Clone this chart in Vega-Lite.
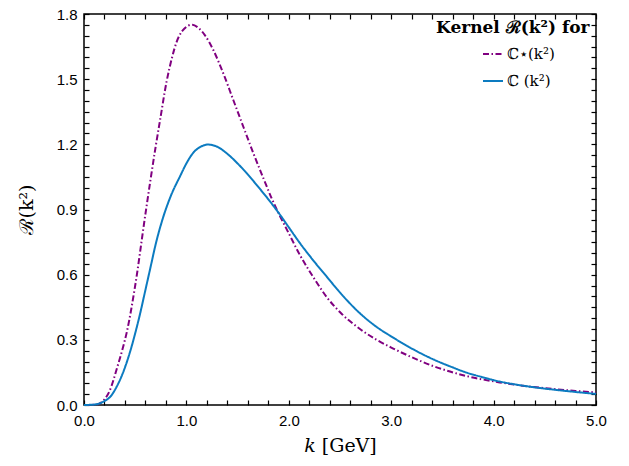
{
  "$schema": "https://vega.github.io/schema/vega-lite/v6.json",
  "autosize": {"type": "none"},
  "padding": {"left": 84, "top": 14, "right": 33, "bottom": 61},
  "width": 512,
  "height": 391,
  "background": "white",
  "config": {
    "view": {"stroke": "black", "strokeWidth": 1.5},
    "axis": {"domain": false, "grid": false, "ticks": true, "labelFlush": false, "labelOverlap": false, "tickColor": "black", "tickWidth": 1.2, "labelColor": "black", "labelFont": "Liberation Sans", "labelFontSize": 15, "titleColor": "black"}
  },
  "data": {"values": [
      {"k": 0.0, "R": 0.0, "s": "ℂ⋆(k²)"},
      {"k": 0.1, "R": 0.001, "s": "ℂ⋆(k²)"},
      {"k": 0.15, "R": 0.006, "s": "ℂ⋆(k²)"},
      {"k": 0.195, "R": 0.023, "s": "ℂ⋆(k²)"},
      {"k": 0.25, "R": 0.065, "s": "ℂ⋆(k²)"},
      {"k": 0.326, "R": 0.176, "s": "ℂ⋆(k²)"},
      {"k": 0.375, "R": 0.255, "s": "ℂ⋆(k²)"},
      {"k": 0.42, "R": 0.34, "s": "ℂ⋆(k²)"},
      {"k": 0.5, "R": 0.55, "s": "ℂ⋆(k²)"},
      {"k": 0.6, "R": 0.88, "s": "ℂ⋆(k²)"},
      {"k": 0.7, "R": 1.19, "s": "ℂ⋆(k²)"},
      {"k": 0.742, "R": 1.309, "s": "ℂ⋆(k²)"},
      {"k": 0.807, "R": 1.49, "s": "ℂ⋆(k²)"},
      {"k": 0.86, "R": 1.6, "s": "ℂ⋆(k²)"},
      {"k": 0.905, "R": 1.672, "s": "ℂ⋆(k²)"},
      {"k": 0.96, "R": 1.722, "s": "ℂ⋆(k²)"},
      {"k": 1.057, "R": 1.751, "s": "ℂ⋆(k²)"},
      {"k": 1.12, "R": 1.735, "s": "ℂ⋆(k²)"},
      {"k": 1.18, "R": 1.703, "s": "ℂ⋆(k²)"},
      {"k": 1.263, "R": 1.634, "s": "ℂ⋆(k²)"},
      {"k": 1.36, "R": 1.527, "s": "ℂ⋆(k²)"},
      {"k": 1.458, "R": 1.404, "s": "ℂ⋆(k²)"},
      {"k": 1.556, "R": 1.281, "s": "ℂ⋆(k²)"},
      {"k": 1.654, "R": 1.159, "s": "ℂ⋆(k²)"},
      {"k": 1.751, "R": 1.045, "s": "ℂ⋆(k²)"},
      {"k": 1.833, "R": 0.951, "s": "ℂ⋆(k²)"},
      {"k": 1.898, "R": 0.885, "s": "ℂ⋆(k²)"},
      {"k": 2.0, "R": 0.79, "s": "ℂ⋆(k²)"},
      {"k": 2.109, "R": 0.69, "s": "ℂ⋆(k²)"},
      {"k": 2.24, "R": 0.588, "s": "ℂ⋆(k²)"},
      {"k": 2.37, "R": 0.497, "s": "ℂ⋆(k²)"},
      {"k": 2.52, "R": 0.418, "s": "ℂ⋆(k²)"},
      {"k": 2.695, "R": 0.35, "s": "ℂ⋆(k²)"},
      {"k": 2.85, "R": 0.302, "s": "ℂ⋆(k²)"},
      {"k": 3.02, "R": 0.26, "s": "ℂ⋆(k²)"},
      {"k": 3.2, "R": 0.22, "s": "ℂ⋆(k²)"},
      {"k": 3.411, "R": 0.179, "s": "ℂ⋆(k²)"},
      {"k": 3.574, "R": 0.154, "s": "ℂ⋆(k²)"},
      {"k": 3.737, "R": 0.133, "s": "ℂ⋆(k²)"},
      {"k": 3.9, "R": 0.117, "s": "ℂ⋆(k²)"},
      {"k": 4.06, "R": 0.104, "s": "ℂ⋆(k²)"},
      {"k": 4.22, "R": 0.093, "s": "ℂ⋆(k²)"},
      {"k": 4.39, "R": 0.083, "s": "ℂ⋆(k²)"},
      {"k": 4.6, "R": 0.073, "s": "ℂ⋆(k²)"},
      {"k": 4.8, "R": 0.065, "s": "ℂ⋆(k²)"},
      {"k": 5.0, "R": 0.058, "s": "ℂ⋆(k²)"},
      {"k": 0.0, "R": 0.0, "s": "ℂ (k²)"},
      {"k": 0.1, "R": 0.002, "s": "ℂ (k²)"},
      {"k": 0.15, "R": 0.007, "s": "ℂ (k²)"},
      {"k": 0.2, "R": 0.018, "s": "ℂ (k²)"},
      {"k": 0.26, "R": 0.04, "s": "ℂ (k²)"},
      {"k": 0.32, "R": 0.085, "s": "ℂ (k²)"},
      {"k": 0.39, "R": 0.16, "s": "ℂ (k²)"},
      {"k": 0.45, "R": 0.245, "s": "ℂ (k²)"},
      {"k": 0.5, "R": 0.33, "s": "ℂ (k²)"},
      {"k": 0.55, "R": 0.425, "s": "ℂ (k²)"},
      {"k": 0.6, "R": 0.53, "s": "ℂ (k²)"},
      {"k": 0.65, "R": 0.635, "s": "ℂ (k²)"},
      {"k": 0.7, "R": 0.74, "s": "ℂ (k²)"},
      {"k": 0.775, "R": 0.867, "s": "ℂ (k²)"},
      {"k": 0.85, "R": 0.965, "s": "ℂ (k²)"},
      {"k": 0.94, "R": 1.055, "s": "ℂ (k²)"},
      {"k": 1.0, "R": 1.112, "s": "ℂ (k²)"},
      {"k": 1.07, "R": 1.163, "s": "ℂ (k²)"},
      {"k": 1.14, "R": 1.189, "s": "ℂ (k²)"},
      {"k": 1.21, "R": 1.199, "s": "ℂ (k²)"},
      {"k": 1.3, "R": 1.189, "s": "ℂ (k²)"},
      {"k": 1.393, "R": 1.159, "s": "ℂ (k²)"},
      {"k": 1.5, "R": 1.112, "s": "ℂ (k²)"},
      {"k": 1.589, "R": 1.067, "s": "ℂ (k²)"},
      {"k": 1.7, "R": 1.005, "s": "ℂ (k²)"},
      {"k": 1.8, "R": 0.947, "s": "ℂ (k²)"},
      {"k": 1.9, "R": 0.885, "s": "ℂ (k²)"},
      {"k": 2.0, "R": 0.818, "s": "ℂ (k²)"},
      {"k": 2.109, "R": 0.745, "s": "ℂ (k²)"},
      {"k": 2.24, "R": 0.665, "s": "ℂ (k²)"},
      {"k": 2.37, "R": 0.591, "s": "ℂ (k²)"},
      {"k": 2.52, "R": 0.507, "s": "ℂ (k²)"},
      {"k": 2.695, "R": 0.422, "s": "ℂ (k²)"},
      {"k": 2.85, "R": 0.362, "s": "ℂ (k²)"},
      {"k": 3.02, "R": 0.31, "s": "ℂ (k²)"},
      {"k": 3.216, "R": 0.256, "s": "ℂ (k²)"},
      {"k": 3.411, "R": 0.21, "s": "ℂ (k²)"},
      {"k": 3.574, "R": 0.178, "s": "ℂ (k²)"},
      {"k": 3.737, "R": 0.149, "s": "ℂ (k²)"},
      {"k": 3.9, "R": 0.127, "s": "ℂ (k²)"},
      {"k": 4.06, "R": 0.108, "s": "ℂ (k²)"},
      {"k": 4.22, "R": 0.094, "s": "ℂ (k²)"},
      {"k": 4.388, "R": 0.082, "s": "ℂ (k²)"},
      {"k": 4.6, "R": 0.07, "s": "ℂ (k²)"},
      {"k": 4.8, "R": 0.06, "s": "ℂ (k²)"},
      {"k": 5.0, "R": 0.051, "s": "ℂ (k²)"}
  ]},
  "resolve": {"axis": {"x": "independent", "y": "independent"}},
  "layer": [
    {
      "mark": {"type": "line", "strokeWidth": 2, "interpolate": "monotone"},
      "encoding": {
        "x": {"field": "k", "type": "quantitative", "scale": {"domain": [0, 5], "nice": false},
          "axis": {"orient": "bottom", "values": [0, 0.2, 0.4, 0.6, 0.8, 1, 1.2, 1.4, 1.6, 1.8, 2, 2.2, 2.4, 2.6, 2.8, 3, 3.2, 3.4, 3.6, 3.8, 4, 4.2, 4.4, 4.6, 4.8, 5], "labelExpr": "round(datum.value * 5) % 5 == 0 ? format(datum.value, '.1f') : ''", "tickSize": -5, "labelPadding": 13, "title": "𝑘 [GeV]", "titleFont": "DejaVu Serif", "titleFontSize": 19, "titleFontWeight": "normal", "titlePadding": 8}},
        "y": {"field": "R", "type": "quantitative", "scale": {"domain": [0, 1.8], "nice": false},
          "axis": {"orient": "left", "values": [0, 0.05, 0.1, 0.15, 0.2, 0.25, 0.3, 0.35, 0.4, 0.45, 0.5, 0.55, 0.6, 0.65, 0.7, 0.75, 0.8, 0.85, 0.9, 0.95, 1.0, 1.05, 1.1, 1.15, 1.2, 1.25, 1.3, 1.35, 1.4, 1.45, 1.5, 1.55, 1.6, 1.65, 1.7, 1.75, 1.8], "labelExpr": "round(datum.value * 20) % 6 == 0 ? format(datum.value, '.1f') : ''", "tickSize": -5, "labelPadding": 12, "title": "ℛ(k²)", "titleFont": "DejaVu Serif", "titleFontSize": 19, "titleFontWeight": "normal", "titlePadding": 20}},
        "color": {"field": "s", "type": "nominal", "sort": null,
          "scale": {"domain": ["ℂ⋆(k²)", "ℂ (k²)"], "range": ["#800080", "#0C7BC0"]},
          "legend": {"title": "Kernel ℛ(k²) for", "orient": "top-right", "offset": 6, "padding": 0, "titleFont": "DejaVu Serif", "titleFontWeight": "bold", "titleFontSize": 17, "titleColor": "black", "titlePadding": 6, "labelFont": "DejaVu Serif", "labelFontSize": 15, "labelColor": "black", "symbolType": "stroke", "symbolSize": 400, "symbolStrokeWidth": 2, "rowPadding": 8, "labelOffset": 3, "symbolOffset": 46,
            "encode": {"symbols": {"update": {"strokeDash": {"signal": "datum.value == 'ℂ⋆(k²)' ? [6, 2.5, 1.5, 2.5] : [1, 0]"}}}}}},
        "strokeDash": {"condition": {"test": "datum.s == 'ℂ⋆(k²)'", "value": [6, 2.5, 1.5, 2.5]}, "value": [1, 0]}
      }
    },
    {
      "mark": {"type": "line", "opacity": 0},
      "encoding": {
        "x": {"field": "k", "type": "quantitative", "axis": {"orient": "top", "values": [0, 0.2, 0.4, 0.6, 0.8, 1, 1.2, 1.4, 1.6, 1.8, 2, 2.2, 2.4, 2.6, 2.8, 3, 3.2, 3.4, 3.6, 3.8, 4, 4.2, 4.4, 4.6, 4.8, 5], "labels": false, "tickSize": -5, "title": ""}},
        "y": {"field": "R", "type": "quantitative", "axis": {"orient": "right", "values": [0, 0.05, 0.1, 0.15, 0.2, 0.25, 0.3, 0.35, 0.4, 0.45, 0.5, 0.55, 0.6, 0.65, 0.7, 0.75, 0.8, 0.85, 0.9, 0.95, 1.0, 1.05, 1.1, 1.15, 1.2, 1.25, 1.3, 1.35, 1.4, 1.45, 1.5, 1.55, 1.6, 1.65, 1.7, 1.75, 1.8], "labels": false, "tickSize": -5, "title": ""}}
      }
    }
  ]
}
